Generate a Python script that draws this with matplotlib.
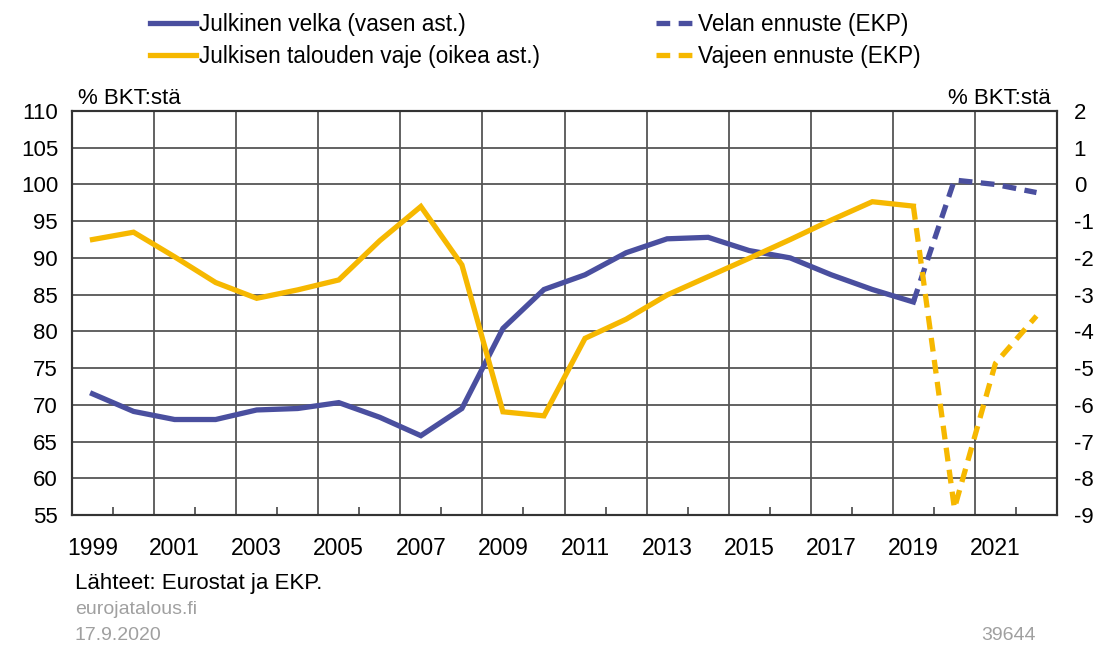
import numpy as np
import matplotlib
matplotlib.use("Agg")
import matplotlib.pyplot as plt

plt.rcParams['font.family'] = ['Liberation Sans', 'DejaVu Sans']
plt.rcParams['axes.unicode_minus'] = False

# Data
years = list(range(1999, 2020))
debt = [71.5, 69.1, 68.0, 68.0, 69.3, 69.5, 70.3, 68.3, 65.8, 69.5, 80.4,
        85.7, 87.7, 90.7, 92.6, 92.8, 91.0, 90.0, 87.7, 85.7, 84.0]
deficit = [-1.50, -1.30, -1.97, -2.67, -3.10, -2.87, -2.60, -1.53, -0.60, -2.19, -6.19,
           -6.30, -4.19, -3.67, -3.01, -2.51, -2.01, -1.50, -0.97, -0.47, -0.59]

fc_years = [2019, 2020, 2021, 2022]
debt_fc = [84.0, 100.6, 100.0, 98.9]
deficit_fc = [-0.59, -8.82, -4.87, -3.58]

tick_years = list(range(1999, 2022, 2))
left_ticks = list(range(55, 111, 5))
right_ticks = list(range(-9, 3))

blue = '#4a4f9f'
yellow = '#f6b800'
grid_c = '#555555'
fs = 16

fig = plt.figure(figsize=(11, 6.45), dpi=100)
ax = fig.add_axes([72 / 1100, 1 - 515 / 645, (1057 - 72) / 1100, (515 - 111) / 645])
ax2 = ax.twinx()

ax.set_xlim(years[0] - 0.5, fc_years[-1] + 0.5)
ax.set_ylim(left_ticks[0], left_ticks[-1])
ax2.set_ylim(right_ticks[0], right_ticks[-1])

# grid: horizontal every 5, vertical between every other category
for v in left_ticks[1:-1]:
    ax.axhline(v, color=grid_c, lw=1.3, zorder=0)
for x in np.arange(years[0] + 1.5, fc_years[-1] + 0.5, 2):
    ax.axvline(x, color=grid_c, lw=1.3, zorder=0)

l1, = ax.plot(years, debt, color=blue, lw=3.8, solid_joinstyle='miter', zorder=3)
l3, = ax.plot(fc_years, debt_fc, color=blue, lw=3.8, dashes=(2.6, 1.6), zorder=3)
l2, = ax2.plot(years, deficit, color=yellow, lw=3.8, solid_joinstyle='miter', zorder=3)
l4, = ax2.plot(fc_years, deficit_fc, color=yellow, lw=3.8, dashes=(2.6, 1.6), zorder=3)

ax.set_xticks(tick_years)
ax.set_xticklabels([str(y) for y in tick_years])
ax.set_xticks(np.arange(years[0] + 0.5, fc_years[-1], 2), minor=True)
ax.tick_params(axis='x', which='major', length=0, labelsize=16.5, pad=16)
ax.tick_params(axis='x', which='minor', length=6, direction='in', width=1.3, color=grid_c)
ax.set_yticks(left_ticks)
ax.tick_params(axis='y', length=0, labelsize=fs, pad=10)
ax2.set_yticks(right_ticks)
ax2.tick_params(axis='y', length=0, labelsize=fs, pad=12)

for a in (ax, ax2):
    for s in a.spines.values():
        s.set_color('#333333')
        s.set_linewidth(1.5)

ax.text(0.006, 1.005, '% BKT:stä', transform=ax.transAxes, fontsize=fs,
        ha='left', va='bottom')
ax.text(0.994, 1.005, '% BKT:stä', transform=ax.transAxes, fontsize=fs,
        ha='right', va='bottom')

leg1 = fig.legend([l1, l2], ['Julkinen velka (vasen ast.)', 'Julkisen talouden vaje (oikea ast.)'],
                  loc='upper left', bbox_to_anchor=(130 / 1100, 1.012), frameon=False,
                  fontsize=16.3, handlelength=2.0, handletextpad=0.15, labelspacing=0.4)
leg2 = fig.legend([l3, l4], ['Velan ennuste (EKP)', 'Vajeen ennuste (EKP)'],
                  loc='upper left', bbox_to_anchor=(636 / 1100, 1.012), frameon=False,
                  fontsize=16.3, handlelength=1.6, handletextpad=0.25, labelspacing=0.4)

fig.text(75 / 1100, 1 - 583 / 645, 'Lähteet: Eurostat ja EKP.', fontsize=fs,
         ha='left', va='center')
fig.text(75 / 1100, 1 - 610 / 645, 'eurojatalous.fi', fontsize=14, color='#a0a0a0',
         ha='left', va='center')
fig.text(75 / 1100, 1 - 636 / 645, '17.9.2020', fontsize=14, color='#a0a0a0',
         ha='left', va='center')
fig.text(1036 / 1100, 1 - 636 / 645, '39644', fontsize=14, color='#a0a0a0',
         ha='right', va='center')

fig.savefig('out.png', dpi=100)
